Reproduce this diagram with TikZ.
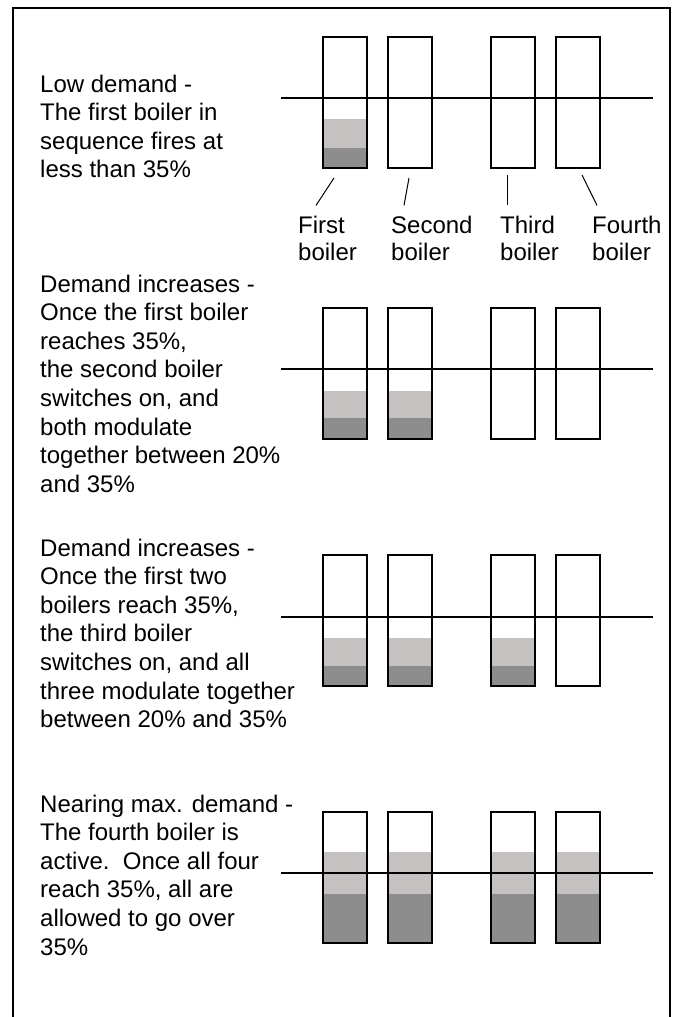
\documentclass[tikz,border=0pt]{standalone}
\usepackage{fontspec}
\setmainfont{Liberation Sans}
\usetikzlibrary{positioning}
\usepackage{xcolor}
\definecolor{lowfire}{RGB}{197,193,192}
\definecolor{highfire}{RGB}{141,141,141}

\begin{document}
\begin{tikzpicture}[x=1pt,y=-1pt,
  desc/.style={anchor=base west,inner sep=0pt,align=left,font=\fontsize{24}{28.6}\selectfont},
  tag/.style={anchor=base west,inner sep=0pt,align=left,font=\fontsize{24}{27}\selectfont},
  boilerbox/.style={draw,line width=2.5pt},
  level/.style={line width=1.3pt},
  pointer/.style={line width=1pt}]
\useasboundingbox (0,0) rectangle (674,1017);
% outer frame, open at the bottom
\draw[line width=2pt] (13,1017) -- (13,8) -- (670,8) -- (670,1017);

% text on the left (placed by the baseline of its last line)
\node[desc] (low) at (40,177.8) {Low demand -\\The first boiler in\\sequence fires at\\less than 35\%};
\node[desc] (two) at (40,492.2) {Demand increases -\\Once the first boiler\\reaches 35\%,\\the second boiler\\switches on, and\\both modulate\\together between 20\%\\and 35\%};
\node[desc] (three) at (40,727.6) {Demand increases -\\Once the first two\\boilers reach 35\%,\\the third boiler\\switches on, and all\\three modulate together\\between 20\% and 35\%};
\node[desc] (four) at (40,955) {Nearing max. demand -\\The fourth boiler is\\active.\ \ Once all four\\reach 35\%, all are\\allowed to go over\\35\%};

% boiler rows: top / 35% line / light top / dark top / boilers on
\foreach \top/\lvl/\lo/\hi/\n in {37/98/119/148/1,308/369/391/418/2,555/617/638/666/3,812/873/852/894/4}{
  \foreach \bx [count=\i] in {323,388,491,556}{
    \ifnum\i>\n\relax\else
      \fill[lowfire] (\bx,\lo) rectangle (\bx+44,\hi);
      \fill[highfire] (\bx,\hi) rectangle (\bx+44,\top+131);
    \fi
  }
  \draw[level] (281,\lvl) -- (653,\lvl);
  \foreach \bx in {323,388,491,556}
    \draw[boilerbox] (\bx,\top) rectangle (\bx+44,\top+131);
}

% boiler names
\node[tag] (first) at (298,260) {First\\boiler};
\node[tag] (second) at (391,260) {Second\\boiler};
\node[tag] (third) at (500,260) {Third\\boiler};
\node[tag] (fourth) at (592,260) {Fourth\\boiler};
\coordinate (b1) at (334,178);
\coordinate (b2) at (409,178);
\coordinate (b3) at (507,175);
\coordinate (b4) at (582,175);
\draw[pointer] (b1) -- ([shift={(18,-10)}]first.north west);
\draw[pointer] (b2) -- ([shift={(13,-10)}]second.north west);
\draw[pointer] (b3) -- ([shift={(7,-10)}]third.north west);
\draw[pointer] (b4) -- ([shift={(5,-10)}]fourth.north west);
\end{tikzpicture}
\end{document}
